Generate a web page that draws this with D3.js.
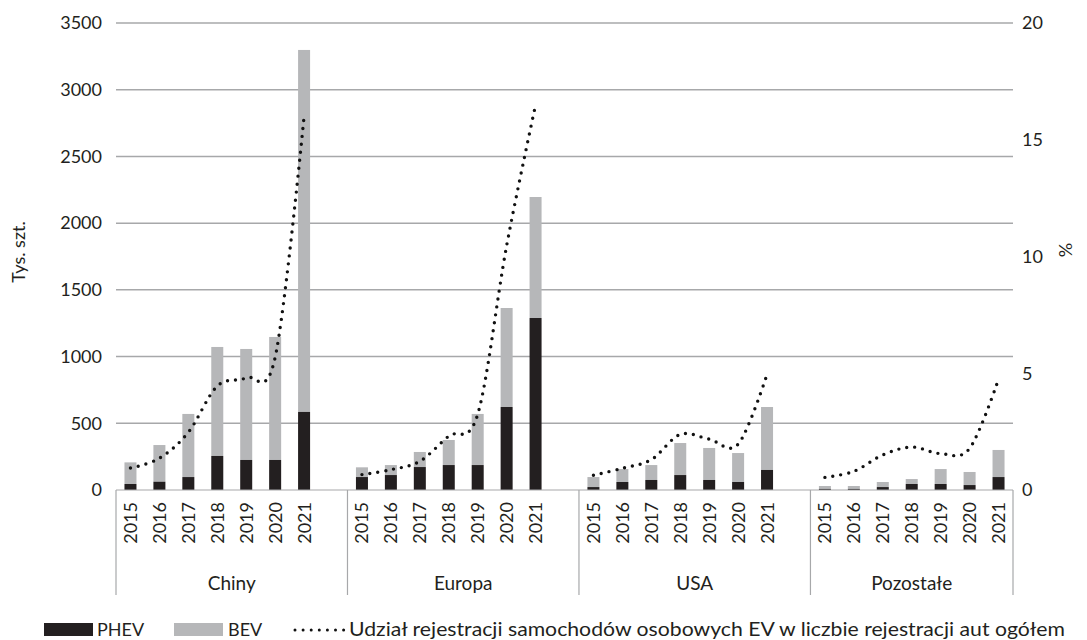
<!DOCTYPE html>
<html>
<head>
<meta charset="utf-8">
<script src="https://cdn.jsdelivr.net/npm/d3@7"></script>
<style>
  html, body { margin: 0; padding: 0; background: #fff; }
  svg { display: block; }
  text { font-family: Lato, "Open Sans", sans-serif; fill: #231f20; }
</style>
</head>
<body>
<svg id="chart" width="1087" height="640"></svg>
<script>
// Regions and years on the category axis
const regions = ["Chiny", "Europa", "USA", "Pozostałe"];
const years = ["2015", "2016", "2017", "2018", "2019", "2020", "2021"];

// Registrations, thousands of units (one row per region, one value per year)
const phev = [
  [45, 62, 97, 255, 225, 225, 585],
  [97, 112, 172, 187, 187, 622, 1289],
  [22, 60, 75, 112, 75, 60, 150],
  [8, 8, 22, 45, 45, 37, 97]
];
const bev = [
  [162, 275, 473, 817, 832, 922, 2713],
  [73, 75, 113, 188, 383, 742, 907],
  [75, 97, 112, 240, 240, 217, 472],
  [22, 22, 38, 37, 112, 98, 203]
];

// EV share of all car registrations, %
const share = [
  [0.94, 1.36, 2.47, 4.45, 4.81, 5.68, 16.0],
  [0.66, 0.87, 1.23, 2.31, 3.24, 10.46, 16.49],
  [0.63, 0.93, 1.3, 2.38, 2.18, 1.96, 4.95],
  [0.54, 0.80, 1.50, 1.84, 1.56, 1.78, 4.75]
];

// Axis ticks
const leftTicks = [0, 500, 1000, 1500, 2000, 2500, 3000, 3500];
const rightTicks = [0, 5, 10, 15, 20];

const svg = d3.select("#chart");
const C_PHEV = "#231f20", C_BEV = "#b6b7b9", C_GRID = "#a7a8aa";

const plotTop = 23, plotBottom = 490, plotLeft = 116, plotRight = 1013;

// One slot per year, plus an empty slot after each region except the last
const slots = [];
regions.forEach((r, gi) => {
  years.forEach(y => slots.push(r + "|" + y));
  if (gi < regions.length - 1) slots.push(r + "|_");
});

const x = d3.scaleBand().domain(slots).range([plotLeft, plotRight]).padding(0);
const step = x.bandwidth();
const barW = step * 0.415;
const y = d3.scaleLinear().domain([0, 3500]).range([plotBottom, plotTop]);
const y2 = d3.scaleLinear().domain([0, 20]).range([plotBottom, plotTop]);

// Horizontal gridlines
svg.append("g").selectAll("line").data(leftTicks.filter(t => t > 0)).join("line")
  .attr("x1", plotLeft).attr("x2", plotRight)
  .attr("y1", d => y(d)).attr("y2", d => y(d))
  .attr("stroke", C_GRID).attr("stroke-width", 1.5);

// Left axis
const gl = svg.append("g").attr("transform", `translate(${plotLeft - 14},0)`)
  .call(d3.axisLeft(y).tickValues(leftTicks).tickFormat(d3.format("d")).tickSize(0).tickPadding(0));
gl.select(".domain").remove();
gl.selectAll("text").attr("font-size", 18).attr("font-family", "Lato, sans-serif").attr("fill", "#231f20");

// Right axis
const gr = svg.append("g").attr("transform", `translate(${plotRight + 9},0)`)
  .call(d3.axisRight(y2).tickValues(rightTicks).tickFormat(d3.format("d")).tickSize(0).tickPadding(0));
gr.select(".domain").remove();
gr.selectAll("text").attr("font-size", 18).attr("font-family", "Lato, sans-serif").attr("fill", "#231f20");

// Axis titles
svg.append("text").attr("transform", `translate(25,252) rotate(-90)`)
  .attr("text-anchor", "middle").attr("font-size", 18).text("Tys. szt.");
svg.append("text").attr("transform", `translate(1072,250) rotate(-90)`)
  .attr("text-anchor", "middle").attr("font-size", 18).text("%");

// Stacked bars
regions.forEach((r, gi) => {
  const g = svg.append("g");
  years.forEach((yr, i) => {
    const cx = x(r + "|" + yr) + step / 2;
    const p = phev[gi][i], b = bev[gi][i];
    g.append("rect").attr("x", cx - barW / 2).attr("width", barW)
      .attr("y", y(p + b)).attr("height", y(p) - y(p + b)).attr("fill", C_BEV);
    g.append("rect").attr("x", cx - barW / 2).attr("width", barW)
      .attr("y", y(p)).attr("height", y(0) - y(p)).attr("fill", C_PHEV);
  });
});

// Category axis: baseline, region separators, year and region labels
const axisG = svg.append("g");
axisG.append("line").attr("x1", plotLeft).attr("x2", plotRight)
  .attr("y1", plotBottom).attr("y2", plotBottom).attr("stroke", C_GRID).attr("stroke-width", 1.2);
const seps = regions.map(r => x(r + "|" + years[0])).concat([plotRight]);
axisG.selectAll("line.sep").data(seps).join("line").attr("class", "sep")
  .attr("x1", d => d).attr("x2", d => d).attr("y1", plotBottom).attr("y2", 595)
  .attr("stroke", C_GRID).attr("stroke-width", 1.2);

regions.forEach((r, gi) => {
  years.forEach(yr => {
    const cx = x(r + "|" + yr) + step / 2;
    axisG.append("text")
      .attr("transform", `translate(${cx},502) rotate(-90)`)
      .attr("text-anchor", "end").attr("dy", "0.36em")
      .attr("font-size", 18).text(yr);
  });
  const x0 = seps[gi], x1 = seps[gi + 1];
  axisG.append("text").attr("x", (x0 + x1) / 2).attr("y", 590)
    .attr("text-anchor", "middle").attr("font-size", 19).text(r);
});

// EV share lines (one per region, smoothed, round dots)
const line = d3.line()
  .x(d => d[0]).y(d => y2(d[1]))
  .curve(d3.curveCardinal.tension(0));
regions.forEach((r, gi) => {
  const pts = years.map((yr, i) => [x(r + "|" + yr) + step / 2, share[gi][i]]);
  svg.append("path").attr("d", line(pts))
    .attr("fill", "none").attr("stroke", "#111")
    .attr("stroke-width", 3.4).attr("stroke-linecap", "round")
    .attr("stroke-dasharray", "0 8");
});

// Legend
const lg = svg.append("g");
lg.append("rect").attr("x", 44).attr("y", 623).attr("width", 49).attr("height", 13).attr("fill", C_PHEV);
lg.append("text").attr("x", 97).attr("y", 636).attr("font-size", 18).text("PHEV");
lg.append("rect").attr("x", 174).attr("y", 623).attr("width", 49).attr("height", 13).attr("fill", C_BEV);
lg.append("text").attr("x", 228).attr("y", 636).attr("font-size", 18).text("BEV");
lg.append("line").attr("x1", 295).attr("x2", 344).attr("y1", 630).attr("y2", 630)
  .attr("stroke", "#111").attr("stroke-width", 3).attr("stroke-linecap", "round")
  .attr("stroke-dasharray", "0 8.1");
lg.append("text").attr("x", 349).attr("y", 636).attr("font-size", 19)
  .attr("textLength", 716).attr("lengthAdjust", "spacingAndGlyphs")
  .text("Udział rejestracji samochodów osobowych EV w liczbie  rejestracji aut ogółem");
</script>
</body>
</html>
